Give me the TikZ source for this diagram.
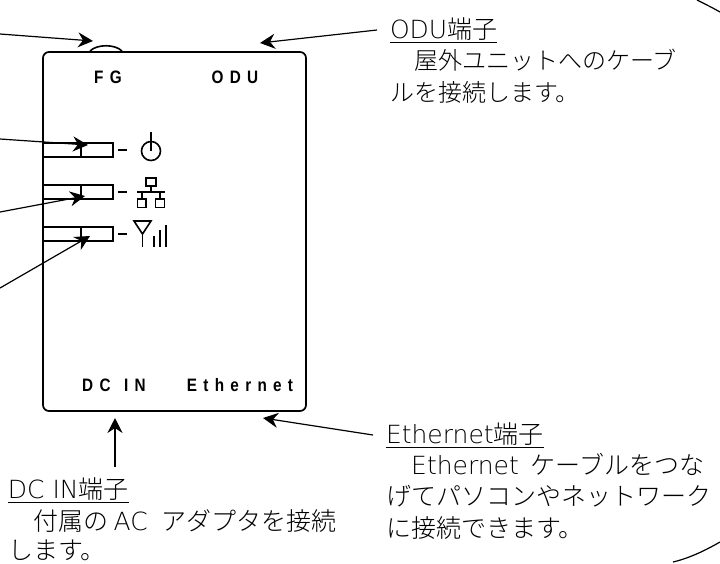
\documentclass[tikz,border=0pt]{standalone}
\usepackage{fontspec}
\usetikzlibrary{arrows.meta}
\setmainfont{Noto Sans CJK JP Light}
\newfontfamily\latinfont{DejaVu Sans ExtraLight}
\newfontfamily\panelfont[FakeStretch=0.85,LetterSpace=35]{Liberation Sans Bold}
\newcommand{\lat}[1]{{\latinfont #1}}

\begin{document}
\begin{tikzpicture}[
            x=1pt, y=-1pt,
            casing/.style={draw=black, line width=1.7pt, rounded corners=6pt, minimum width=263pt, minimum height=359pt, inner sep=0pt},
            lamp/.style={draw=black, line width=2.3pt, minimum width=32pt, minimum height=14pt, inner sep=0pt, outer sep=0pt},
            wire/.style={draw=black, line width=1.2pt},
            icon/.style={draw=black, line width=1.6pt},
            pointer/.style={draw=black, line width=1.2pt, -{Stealth[length=15pt, width=15pt, inset=5pt]}},
            bubble/.style={draw=black, line width=1.2pt},
            paneltext/.style={font=\panelfont\fontsize{18pt}{18pt}\selectfont, inner sep=0pt},
            title/.style={anchor=west, inner sep=0pt, outer xsep=13pt, font=\fontsize{25pt}{32pt}\selectfont},
            body/.style={anchor=north west, inner sep=0pt, align=left, font=\fontsize{25pt}{31.5pt}\selectfont}
        ]
            \useasboundingbox (0, 0) rectangle (720, 563);
            % casing
            \node[casing] (panel) at (174.5, 231.5) {};
            \draw[icon] (90, 51) .. controls (97, 44) and (115, 44) .. (122, 51);
            % panel texts
            \node[paneltext] (fg) at (108, 77) {FG};
            \node[paneltext] (odu) at (235, 77) {ODU};
            \node[paneltext] (dcin) at (114, 385) {DC\hspace{3pt} IN};
            \node[paneltext] (ethernet) at (240, 385) {Ethernet};
            % lamps
            \foreach \name/\y in {power/150, lan/192, radio/234} {
                \node[lamp] (\name) at (97, \y) {};
                \draw[wire] (panel.west |- \name.north) -- (\name.north west);
                \draw[wire] (panel.west |- \name.south) -- (\name.south west);
                \draw[icon] (118, \y) -- (127, \y);
            }
            % power icon
            \draw[icon] (151, 151) circle (9.5);
            \draw[icon] (151, 132) -- (151, 151);
            % lan icon
            \draw[icon] (146, 178) rectangle (156, 186);
            \draw[icon] (151, 186) -- (151, 192);
            \draw[icon] (137, 192) -- (165, 192);
            \draw[icon] (142, 192) -- (142, 199);
            \draw[icon] (160, 192) -- (160, 199);
            \draw[icon] (137.5, 199) rectangle (146, 207.5);
            \draw[icon] (155.5, 199) rectangle (164.5, 207.5);
            % radio icon
            \draw[icon] (134, 221) -- (151, 221) -- (142.5, 234) -- cycle;
            \draw[icon] (142.5, 234) -- (142.5, 247);
            \draw[icon] (154, 236) -- (154, 247);
            \draw[icon] (160, 230) -- (160, 247);
            \draw[icon] (166, 225) -- (166, 247);
            % labels
            \node[title] (odutitle) at (377, 30) {\underline{\lat{ODU}端子}};
            \node[body, font=\fontsize{24pt}{31.5pt}\selectfont] (odubody) at (390, 49) {　屋外ユニットへのケーブ\\ルを接続します。};
            \node[title] (ethertitle) at (373, 435) {\underline{\lat{Ethernet}端子}};
            \node[body] (etherbody) at (386, 453) {　\lat{Ethernet}\hspace{12pt}ケーブルをつな\\げてパソコンやネットワーク\\に接続できます。};
            \node[title, outer xsep=0pt] (dctitle) at (8, 490) {\underline{\lat{DC IN}端子}};
            \node[body, font=\fontsize{25pt}{29.5pt}\selectfont] (dcbody) at (8, 509) {　付属の \lat{AC}\hspace{14pt}アダプタを接続\\します。};
            % arrows
            \coordinate (fgtip) at (93, 41);
            \coordinate (fgtail) at (0, 34);
            \coordinate (odutip) at (260, 43);
            \coordinate (ethertip) at (263, 418);
            \coordinate (dctip) at (115, 418);
            \coordinate (dctail) at (115, 467);
            \coordinate (powertail) at (0, 139);
            \coordinate (lantail) at (0, 212);
            \coordinate (radiotail) at (0, 288);
            \draw[pointer] (fgtail) -- (fgtip);
            \draw[pointer] (odutitle.west) -- (odutip);
            \draw[pointer] (ethertitle.west) -- (ethertip);
            \draw[pointer] (dctail) -- (dctip);
            \draw[pointer] (powertail) -- (88, 145);
            \draw[pointer] (lantail) -- (85, 196);
            \draw[pointer] (radiotail) -- (90, 236);
            % bubble
            \draw[bubble] (697, 0) .. controls (705, 4) and (713, 8) .. (720, 12);
            \draw[bubble] (673, 562) .. controls (690, 558) and (706, 550) .. (720, 542);
        \end{tikzpicture}
\end{document}
